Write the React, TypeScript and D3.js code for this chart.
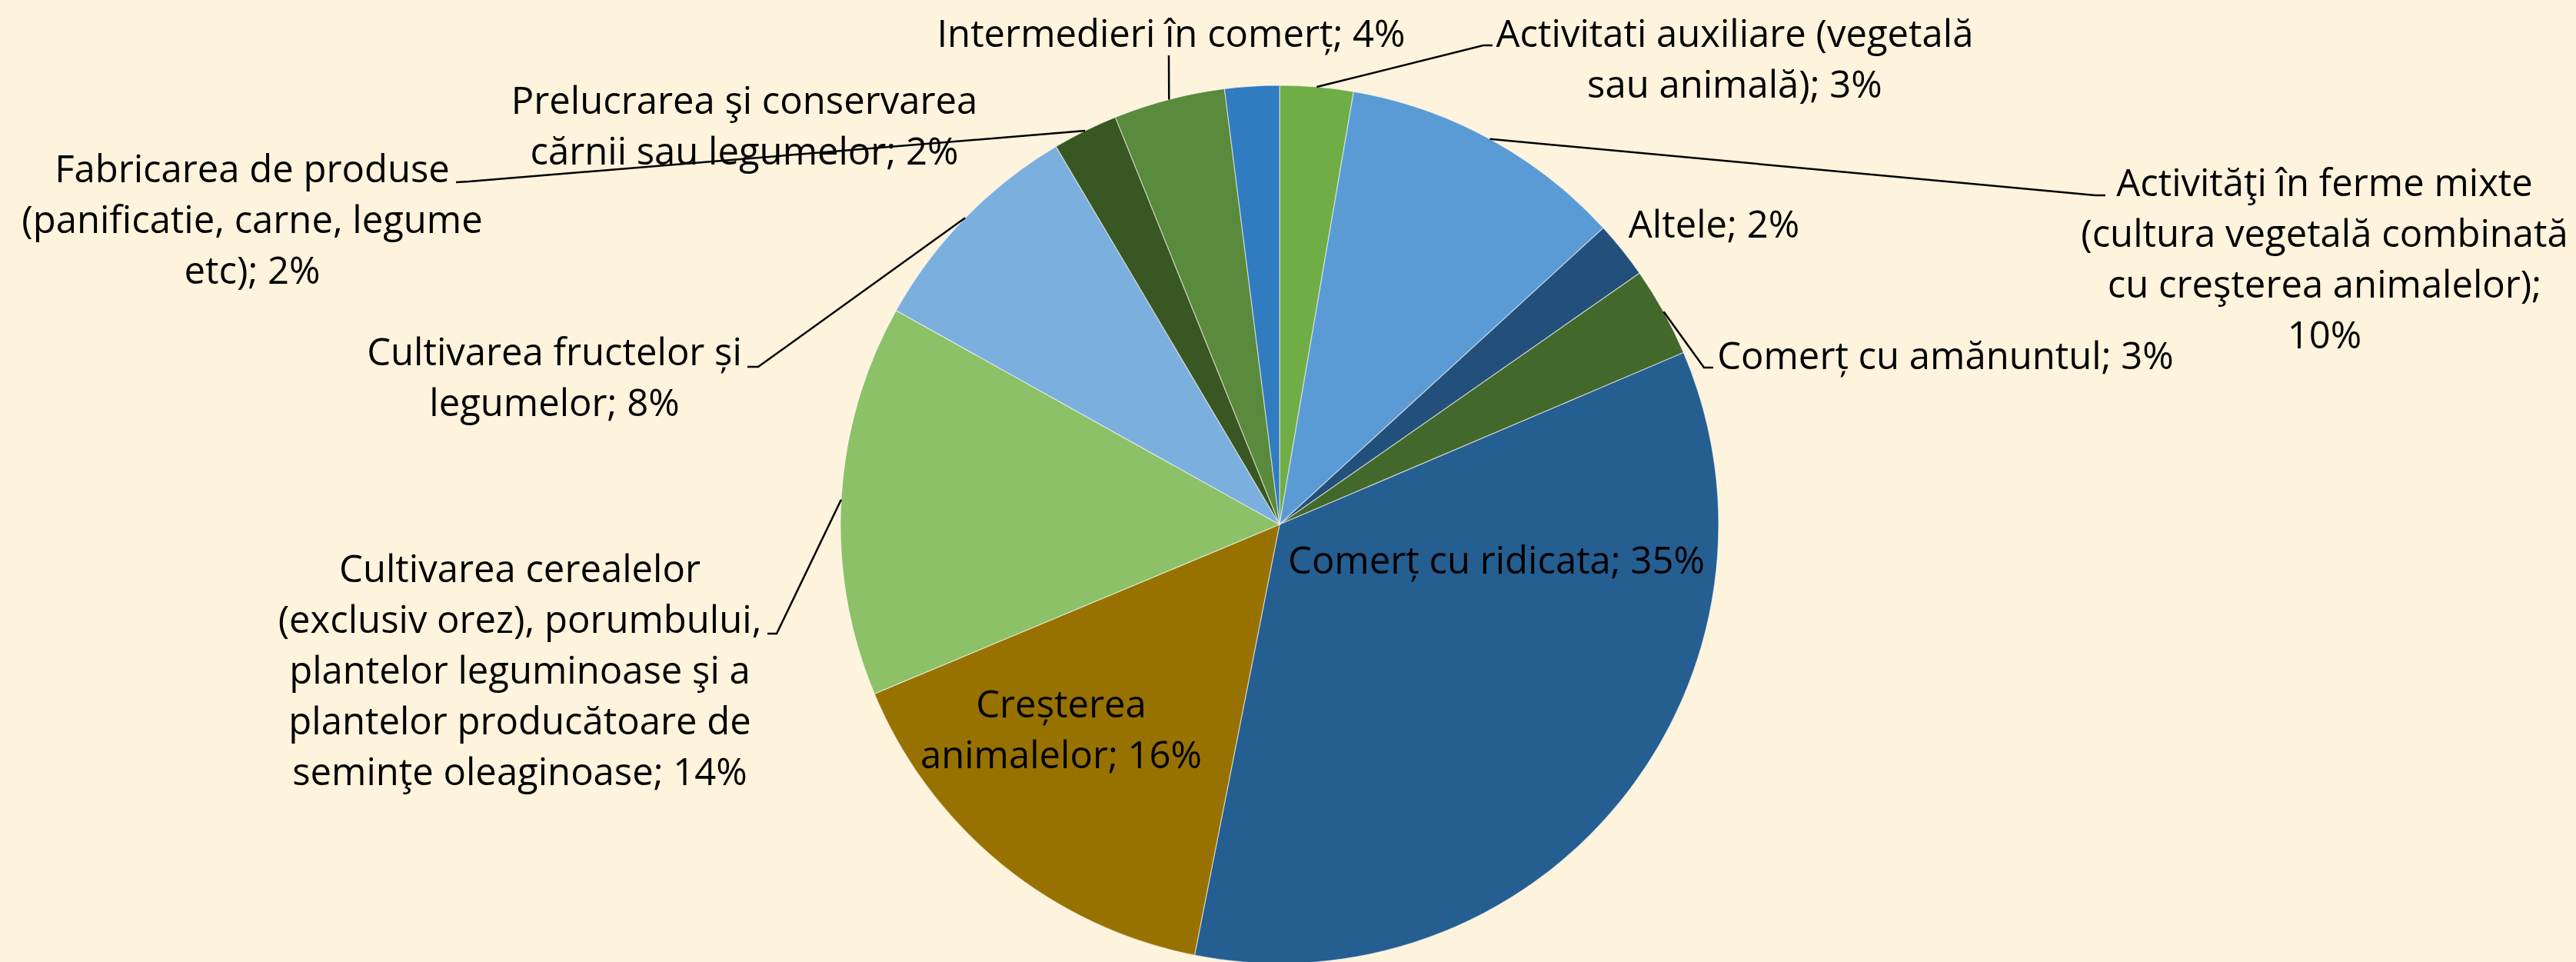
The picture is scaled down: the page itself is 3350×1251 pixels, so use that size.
import React, { useEffect, useRef } from 'react';
import * as d3 from 'd3';

// slice order = clockwise from 12 o'clock
const categories = [
  'Activitati auxiliare',
  'Activități în ferme mixte',
  'Altele',
  'Comerț cu amănuntul',
  'Comerț cu ridicata',
  'Creșterea animalelor',
  'Cultivarea cerealelor',
  'Cultivarea fructelor și legumelor',
  'Fabricarea de produse',
  'Intermedieri în comerț',
  'Prelucrarea şi conservarea',
];
const shares = [2.7, 10.5, 2.1, 3.3, 34.5, 15.6, 14.4, 8.4, 2.4, 4.1, 2.0];
const colors = [
  '#70ad47', '#5b9bd5', '#22507a', '#43682b', '#255e91', '#987200',
  '#8cc168', '#7bafde', '#385723', '#5a8a3c', '#317bc0',
];
const labelLines = [
  ['Activitati auxiliare (vegetală', 'sau animală); 3%'],
  ['Activităţi în ferme mixte', '(cultura vegetală combinată', 'cu creşterea animalelor);', '10%'],
  ['Altele; 2%'],
  ['Comerț cu amănuntul; 3%'],
  ['Comerț cu ridicata; 35%'],
  ['Creșterea', 'animalelor; 16%'],
  ['Cultivarea cerealelor', '(exclusiv orez), porumbului,', 'plantelor leguminoase şi a', 'plantelor producătoare de', 'seminţe oleaginoase; 14%'],
  ['Cultivarea fructelor și', 'legumelor; 8%'],
  ['Fabricarea de produse', '(panificatie, carne, legume', 'etc); 2%'],
  ['Intermedieri în comerț; 4%'],
  ['Prelucrarea şi conservarea', 'cărnii sau legumelor; 2%'],
];

// layout: label centre x, first baseline y, leader (label side) points
const labelPos = [
  { x: 2256, y: 61 },
  { x: 3023, y: 255 },
  { x: 2229, y: 309 },
  { x: 2530, y: 480 },
  { x: 1946, y: 746 },
  { x: 1380, y: 933 },
  { x: 676, y: 757 },
  { x: 721, y: 475 },
  { x: 328, y: 237 },
  { x: 1523, y: 61 },
  { x: 968, y: 148 },
];
const leaderPts: ([number, number][] | null)[] = [
  [[1929, 59], [1941, 59]],
  [[2725, 254], [2738, 254]],
  null,
  [[2216, 478], [2228, 478]],
  null,
  null,
  [[1010, 824], [998, 824]],
  [[986, 477], [972, 477]],
  [[610, 236], [593, 237]],
  [[1520, 72]],
  null,
];

const W = 3350;
const H = 1251;
const cx = 1664;
const cy = 682;
const R = 571;

export default function App() {
  const ref = useRef<SVGSVGElement>(null);

  useEffect(() => {
    document.body.style.margin = '0';
    document.body.style.background = '#fef3dc';
    const svg = d3.select(ref.current);
    svg.selectAll('*').remove();

    svg.append('rect').attr('width', W).attr('height', H).attr('fill', '#fef3dc');

    const pie = d3.pie<number>().sort(null).value(d => d);
    const arcs = pie(shares);
    const arc = d3.arc<d3.PieArcDatum<number>>().innerRadius(0).outerRadius(R);

    const g = svg.append('g').attr('transform', `translate(${cx},${cy})`);
    g.selectAll('path')
      .data(arcs)
      .enter()
      .append('path')
      .attr('d', arc)
      .attr('fill', (d, i) => colors[i])
      .attr('stroke', '#ffffff')
      .attr('stroke-opacity', 0.55)
      .attr('stroke-width', 1.2);

    // leader lines
    arcs.forEach((a, i) => {
      const pts = leaderPts[i];
      if (!pts) return;
      const mid = (a.startAngle + a.endAngle) / 2;
      const edge: [number, number] = [cx + R * Math.sin(mid), cy - R * Math.cos(mid)];
      svg.append('path')
        .attr('d', d3.line()([edge, ...pts]))
        .attr('fill', 'none')
        .attr('stroke', '#000')
        .attr('stroke-width', 2.5);
    });

    // labels
    labelLines.forEach((lines, i) => {
      const p = labelPos[i];
      const t = svg.append('text')
        .attr('x', p.x)
        .attr('y', p.y)
        .attr('text-anchor', 'middle')
        .attr('font-family', '"Open Sans", sans-serif')
        .attr('font-size', 49)
        .attr('fill', '#000');
      lines.forEach((ln, j) => {
        t.append('tspan').attr('x', p.x).attr('dy', j === 0 ? 0 : 66).text(ln);
      });
    });
  }, []);

  return <svg ref={ref} width={W} height={H} style={{ display: 'block' }} aria-label={categories.join(', ')} />;
}
